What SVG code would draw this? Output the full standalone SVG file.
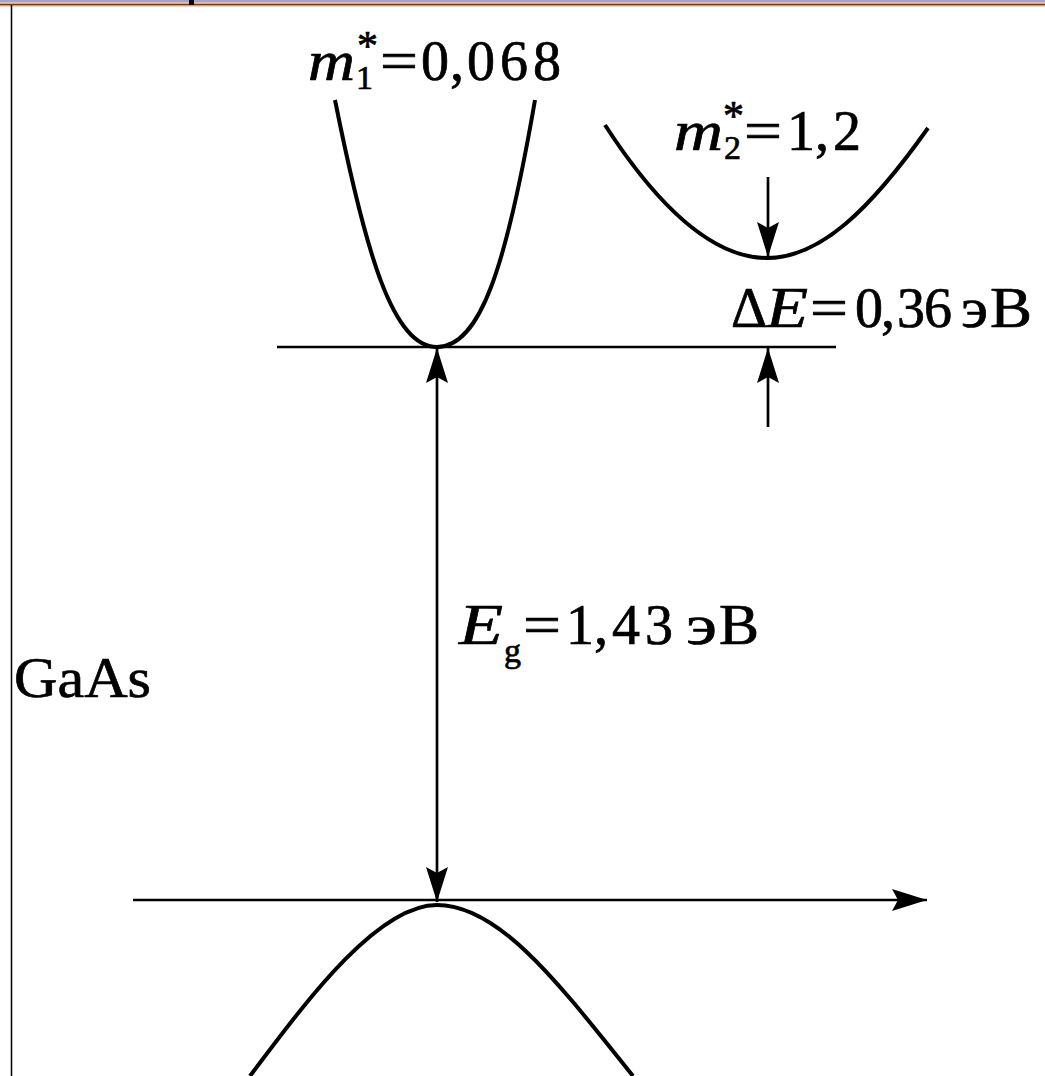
<svg xmlns="http://www.w3.org/2000/svg" width="1045" height="1076" viewBox="0 0 1045 1076">
<defs>
<style>
.ln{stroke:#000;stroke-width:2.7;fill:none}
.cv{stroke:#000;stroke-width:4;fill:none}
.t{font-family:"Liberation Serif","Times New Roman",serif;fill:#000;stroke:#000;stroke-width:0.7;font-size:56px}
.it{font-style:italic}
.sub{font-size:34px}
.sup{font-size:42px}
</style>
<marker id="ah" viewBox="-36 -12 38 24" refX="0" refY="0" markerWidth="38" markerHeight="24" markerUnits="userSpaceOnUse" orient="auto-start-reverse">
<path d="M0,0 L-35,-11 L-29,0 L-35,11 Z" fill="#000"/>
</marker>
</defs>
<rect width="1045" height="1076" fill="#fff"/>
<g id="frame">
<rect x="0" y="0" width="1045" height="2.5" fill="#9ea3d9"/>
<rect x="0" y="2.5" width="1045" height="4" fill="#f5a564"/>
<line x1="0" y1="4.6" x2="1045" y2="4.6" stroke="#5a3010" stroke-width="1"/>
<rect x="189" y="0" width="5" height="5" fill="#000"/>
<line x1="11.5" y1="5" x2="11.5" y2="1076" stroke="#000" stroke-width="1.5"/>
</g>
<g id="curves">
<path id="gamma-valley" class="cv" d="M335,100 C366,255 393,347 437,347 C480,347 506,268 535,100"/>
<path id="l-valley" class="cv" d="M605,125 C660,210 715,258 767,258 C820,258 870,210 928,128"/>
<path id="valence" class="cv" d="M250,1076 C300,1010 375,905 437,905 C500,905 560,985 633,1076"/>
</g>
<g id="connectors">
<line class="ln" x1="277" y1="347" x2="836" y2="347"/>
<line class="ln" x1="133" y1="900" x2="927" y2="900" marker-end="url(#ah)"/>
<line class="ln" x1="437" y1="348" x2="437" y2="902" marker-start="url(#ah)" marker-end="url(#ah)"/>
<line class="ln" x1="768" y1="177" x2="768" y2="257" marker-end="url(#ah)"/>
<line class="ln" x1="768" y1="427" x2="768" y2="348" marker-end="url(#ah)"/>
</g>
<g id="label-m1">
<text class="t"><tspan class="it" x="308" y="80" textLength="47" lengthAdjust="spacingAndGlyphs">m</tspan><tspan class="sub" x="356" y="89">1</tspan><tspan class="sup" x="357" y="60">*</tspan><tspan x="380" y="80" textLength="38" lengthAdjust="spacingAndGlyphs">=</tspan><tspan x="421 450 467 500 533" y="80">0,068</tspan></text>
</g>
<g id="label-m2">
<text class="t"><tspan class="it" x="674" y="150" textLength="49" lengthAdjust="spacingAndGlyphs">m</tspan><tspan class="sub" x="724" y="159">2</tspan><tspan class="sup" x="723" y="130">*</tspan><tspan x="744" y="150" textLength="38" lengthAdjust="spacingAndGlyphs">=</tspan><tspan x="787 815 833" y="150">1,2</tspan></text>
</g>
<g id="label-dE">
<text class="t"><tspan x="731" y="327">Δ</tspan><tspan class="it" x="766" y="327" textLength="42" lengthAdjust="spacingAndGlyphs">E</tspan><tspan x="810" y="327" textLength="38" lengthAdjust="spacingAndGlyphs">=</tspan><tspan x="855 881 897 924" y="327">0,36</tspan><tspan x="961" y="327" textLength="27" lengthAdjust="spacingAndGlyphs">э</tspan><tspan x="990" y="327" textLength="42" lengthAdjust="spacingAndGlyphs">В</tspan></text>
</g>
<g id="label-Eg">
<text class="t"><tspan class="it" x="459" y="644" textLength="44" lengthAdjust="spacingAndGlyphs">E</tspan><tspan class="sub" x="504" y="662">g</tspan><tspan x="523" y="644" textLength="38" lengthAdjust="spacingAndGlyphs">=</tspan><tspan x="566 594 612 645" y="644">1,43</tspan><tspan x="686" y="644" textLength="31" lengthAdjust="spacingAndGlyphs">э</tspan><tspan x="719" y="644" textLength="40" lengthAdjust="spacingAndGlyphs">В</tspan></text>
</g>
<g id="label-GaAs">
<text class="t" x="14" y="697" style="font-size:57px" textLength="137" lengthAdjust="spacingAndGlyphs">GaAs</text>
</g>
</svg>
